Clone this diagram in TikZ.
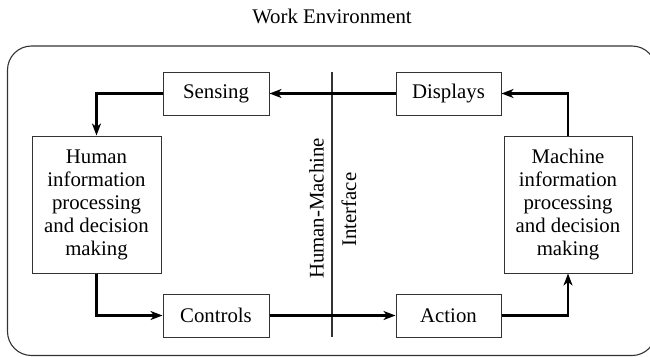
\documentclass[tikz,border=0pt]{standalone}
\usepackage{fontspec}
\setmainfont{Liberation Serif}
\usetikzlibrary{arrows.meta}
\begin{document}
\begin{tikzpicture}[x=1pt,y=-1pt,
  every node/.style={font=\fontsize{20.8}{23}\selectfont, text=black},
  blk/.style={draw=black!80, line width=1pt, inner sep=0pt, align=center},
  flow/.style={line width=2.4pt, draw=black, -{Stealth[length=12pt,width=9pt,inset=3.5pt]}},
  frame/.style={draw=black!80, line width=1.1pt, rounded corners=24pt}]
\useasboundingbox (0,0) rectangle (650,356);
\clip (0,0) rectangle (650,356);
\draw[frame] (7.5,46) rectangle (656,355.5);
\node (title) at (332,16) {Work Environment};
\node[blk, minimum width=106pt, minimum height=43pt] (sens) at (216,93.5) {Sensing};
\node[blk, minimum width=105pt, minimum height=43pt] (disp) at (448.5,93.5) {Displays};
\node[blk, minimum width=129pt, minimum height=137pt] (human) at (96.5,204.5) {Human\\information\\processing\\and decision\\making};
\node[blk, minimum width=128pt, minimum height=137pt] (mach) at (568,204.5) {Machine\\information\\processing\\and decision\\making};
\node[blk, minimum width=106pt, minimum height=43pt] (ctrl) at (216,315.5) {Controls};
\node[blk, minimum width=105pt, minimum height=43pt] (act) at (448.5,315.5) {Action};
\coordinate (itop) at (332,72);
\coordinate (ibot) at (332,337);
\draw[draw=black!80, line width=1.1pt] (itop) -- (ibot);
\node[rotate=90, inner sep=0pt] (hm) at (316.5,208.5) {Human-Machine};
\node[rotate=90, inner sep=0pt] (intf) at (349,209.5) {Interface};
\draw[flow] (sens.west) -| (human.north);
\draw[flow] (disp.west) -- (sens.east);
\draw[flow] (mach.north) |- (disp.east);
\draw[flow] (human.south) |- (ctrl.west);
\draw[flow] (ctrl.east) -- (act.west);
\draw[flow] (act.east) -| (mach.south);
\end{tikzpicture}
\end{document}
